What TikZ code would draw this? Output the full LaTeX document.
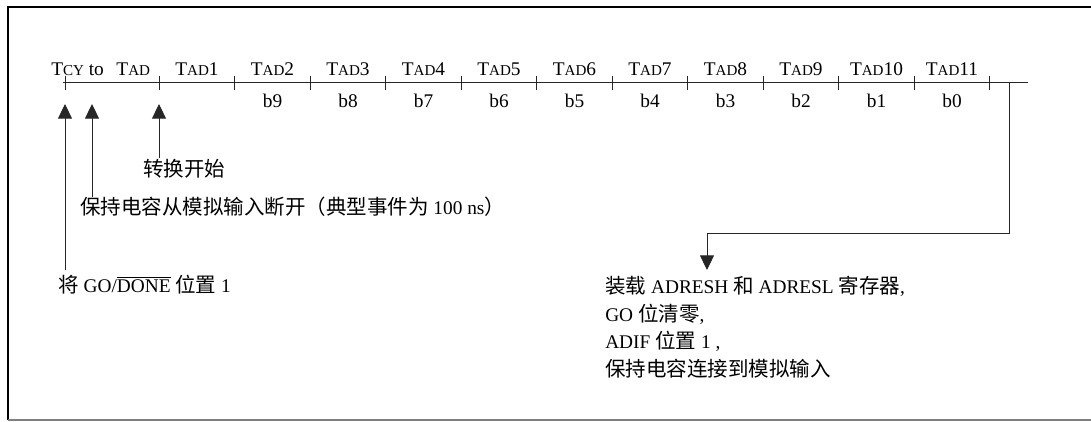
\documentclass[tikz,border=0pt]{standalone}
\usepackage{fontspec}
\setmainfont{Liberation Serif}
\newfontfamily\cjk[Scale=1.06]{Noto Sans CJK SC}
\usetikzlibrary{arrows.meta}
\newcommand\mysc[1]{{\fontsize{11.3pt}{12pt}\selectfont #1}}
\begin{document}
\begin{tikzpicture}[x=0.75pt,y=-0.75pt,
  font=\fontsize{14.5pt}{17pt}\selectfont,
  lbl/.style={inner sep=0pt},
  ln/.style={line width=0.75pt, black!85},
  arr/.style={ln,-{Triangle[width=10.5pt,length=11pt]}}]
\useasboundingbox (0,0) rectangle (1091,421);
% frame
\draw[line width=1.5pt] (8,420) -- (8,6.5) -- (1091,6.5);
\draw[gray, line width=1pt] (8,420) -- (1091,420);
% timeline
\coordinate (L0) at (63,82);
\coordinate (L1) at (1028,82);
\draw[ln] (L0) -- (L1);
\draw[ln] (65,76) -- (65,90);
\foreach \i in {1,...,12} {
  \draw[ln] ({159+75.5*(\i-1)},76) -- ({159+75.5*(\i-1)},90);
}
% labels above
\node[lbl,anchor=base west] (t0) at (51,75) {T\mysc{CY} to\hspace{0.65em}T\mysc{AD}};
\foreach \i in {1,...,11} {
  \node[lbl,anchor=base] (t\i) at ({197+75.5*(\i-1)},75) {T\mysc{AD}\i};
}
% labels below
\foreach \i in {2,...,11} {
  \pgfmathtruncatemacro\bb{11-\i}
  \node[lbl,anchor=base] (b\bb) at ({197+75.5*(\i-1)},107) {b\bb};
}
% up arrows
\coordinate (a1) at (65,104);  \coordinate (a1s) at (65,270);
\coordinate (a2) at (92,104);  \coordinate (a2s) at (92,197);
\coordinate (a3) at (159,104); \coordinate (a3s) at (159,158);
\draw[arr] (a1s) -- (a1);
\draw[arr] (a2s) -- (a2);
\draw[arr] (a3s) -- (a3);
\node[lbl,anchor=base west] (n1) at (143,176) {\cjk 转换开始};
\node[lbl,anchor=base west] (n2) at (80,214) {{\cjk 保持电容从模拟输入断开（典型事件为} 100 ns{\cjk ）}};
\node[lbl,anchor=base west] (n3) at (58,292) {{\cjk 将} GO/$\overline{\hbox{DONE}}$ {\cjk 位置} 1};
% end connector
\coordinate (e0) at (1009,82);
\coordinate (e1) at (707,233);
\coordinate (e2) at (707,270);
\draw[arr] (e0) |- (e1) -- (e2);
\node[lbl,anchor=base west] (r1) at (605,293) {{\cjk 装载} ADRESH {\cjk 和} ADRESL {\cjk 寄存器},};
\node[lbl,anchor=base west] (r2) at (605,321) {GO {\cjk 位清零},};
\node[lbl,anchor=base west] (r3) at (605,348) {ADIF {\cjk 位置} 1 ,};
\node[lbl,anchor=base west] (r4) at (605,376) {\cjk 保持电容连接到模拟输入};
\end{tikzpicture}
\end{document}
